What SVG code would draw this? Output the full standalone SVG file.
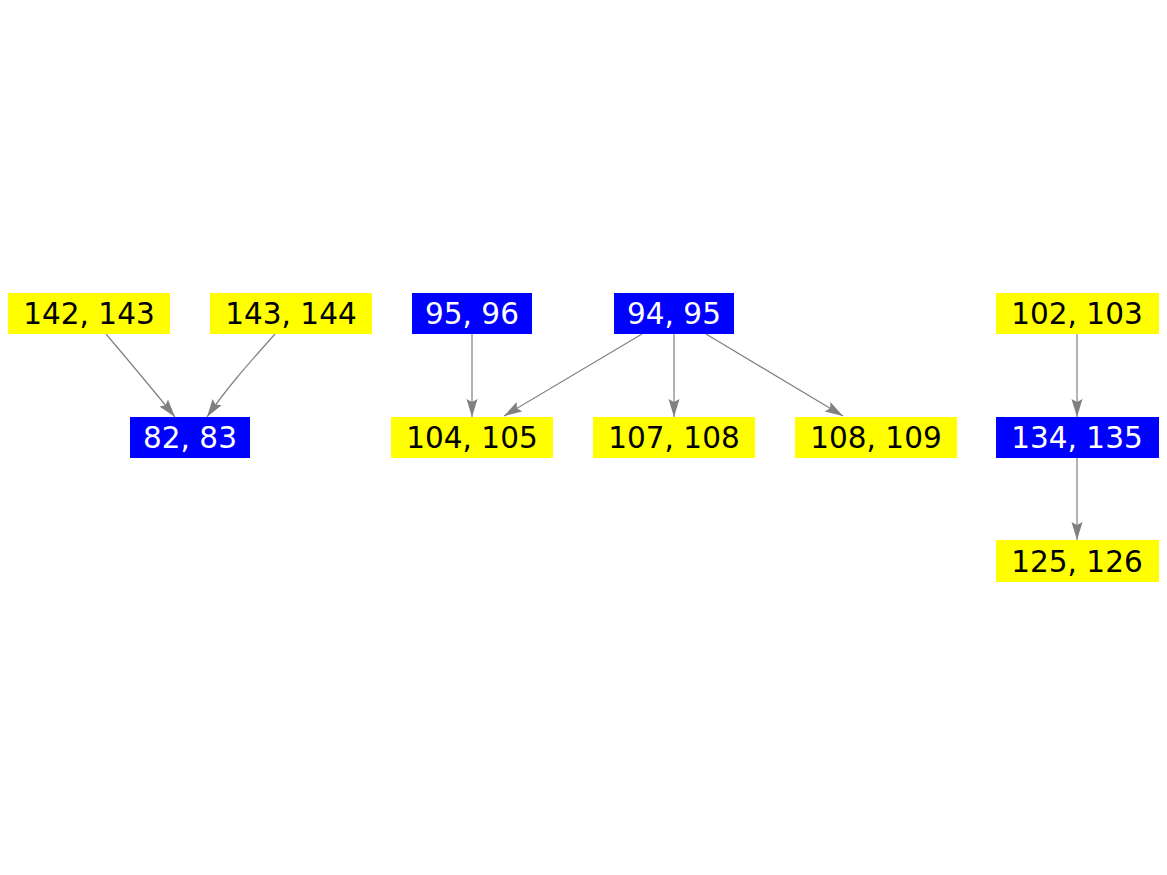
<svg xmlns="http://www.w3.org/2000/svg" width="1167" height="875" viewBox="0 0 1167 875">
<style>
.y{fill:#ffff00}
.b{fill:#0000ff}
.t{font-family:"DejaVu Sans",sans-serif;font-size:29.5px;text-anchor:middle}
.tb{fill:#000}
.tw{fill:#fff}
.e{fill:none;stroke:#808080;stroke-width:1.2;marker-end:url(#ah)}
</style>
<defs>
<marker id="ah" markerUnits="userSpaceOnUse" markerWidth="20" markerHeight="14" refX="18" refY="7" orient="auto">
<polygon points="0,1.5 18,7 0,12.5 3,7" fill="#808080"/>
</marker>
</defs>
<rect width="1167" height="875" fill="#fff"/>
<g id="connectors">
<path class="e" d="M106,334 C128,360 150,386 175,417"/>
<path class="e" d="M275,334 C252,360 228,386 207,417"/>
<path class="e" d="M472,334 L472,417"/>
<path class="e" d="M642,334 L504,416"/>
<path class="e" d="M674,334 L674,417"/>
<path class="e" d="M706,334 L843,416"/>
<path class="e" d="M1077,334 L1077,417"/>
<path class="e" d="M1077,458 L1077,540"/>
</g>
<g id="n142"><rect class="y" x="8" y="293" width="162" height="41"/><text class="t tb" x="89" y="324">142, 143</text></g>
<g id="n143"><rect class="y" x="210" y="293" width="162" height="41"/><text class="t tb" x="291" y="324">143, 144</text></g>
<g id="n82"><rect class="b" x="130" y="417" width="120" height="41"/><text class="t tw" x="190" y="448">82, 83</text></g>
<g id="n95"><rect class="b" x="412" y="293" width="120" height="41"/><text class="t tw" x="472" y="324">95, 96</text></g>
<g id="n94"><rect class="b" x="614" y="293" width="120" height="41"/><text class="t tw" x="674" y="324">94, 95</text></g>
<g id="n104"><rect class="y" x="391" y="417" width="162" height="41"/><text class="t tb" x="472" y="448">104, 105</text></g>
<g id="n107"><rect class="y" x="593" y="417" width="162" height="41"/><text class="t tb" x="674" y="448">107, 108</text></g>
<g id="n108"><rect class="y" x="795" y="417" width="162" height="41"/><text class="t tb" x="876" y="448">108, 109</text></g>
<g id="n102"><rect class="y" x="996" y="293" width="163" height="41"/><text class="t tb" x="1077" y="324">102, 103</text></g>
<g id="n134"><rect class="b" x="996" y="417" width="163" height="41"/><text class="t tw" x="1077" y="448">134, 135</text></g>
<g id="n125"><rect class="y" x="996" y="540" width="163" height="42"/><text class="t tb" x="1077" y="572">125, 126</text></g>
</svg>
